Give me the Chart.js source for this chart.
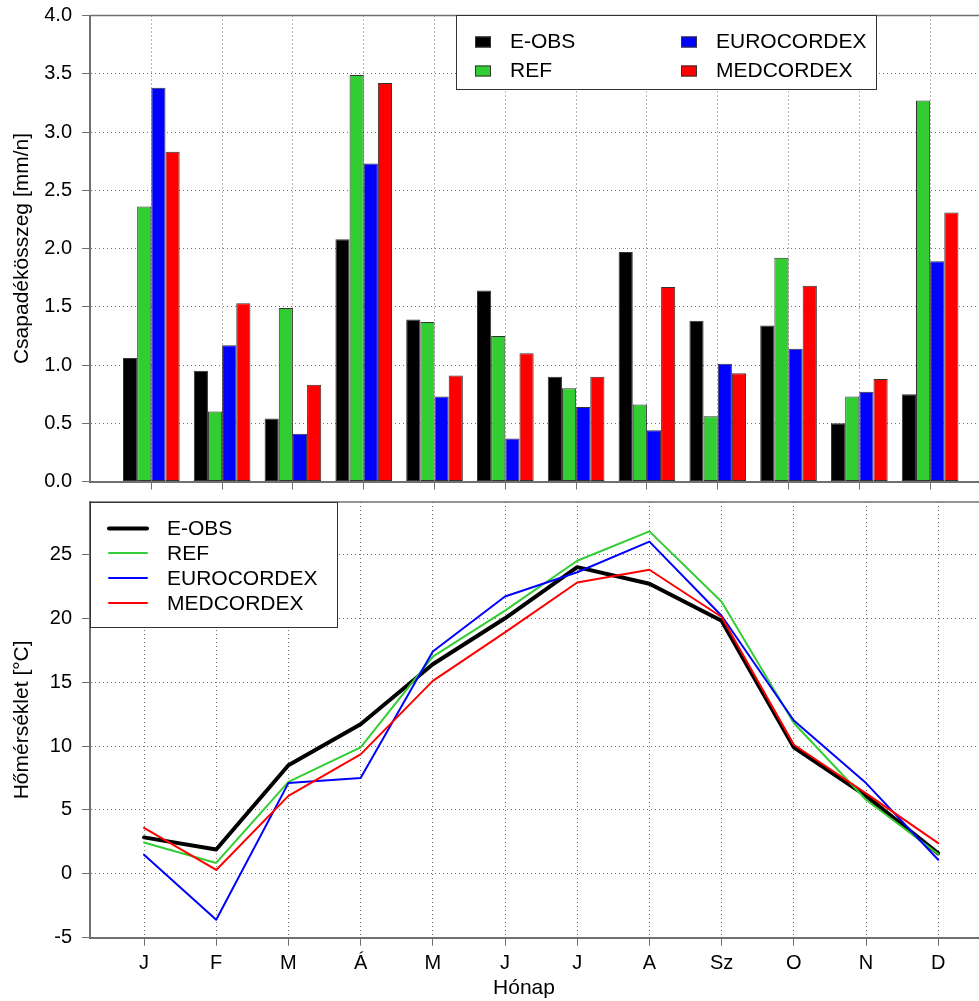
<!DOCTYPE html>
<html>
<head>
<meta charset="utf-8">
<script src="https://cdn.jsdelivr.net/npm/chart.js@4/dist/chart.umd.min.js"></script>
<style>
html, body { margin: 0; padding: 0; background: #ffffff; }
#wrap { position: relative; width: 979px; height: 1001px; overflow: hidden; background: #ffffff; }
#wrap canvas { position: absolute; left: 0; }
</style>
</head>
<body>
<div id="wrap">
  <canvas id="precip" width="979" height="495" style="top:0px;width:979px;height:495px"></canvas>
  <canvas id="temp" width="979" height="531" style="top:470px;width:979px;height:531px"></canvas>
</div>
<script>
// ---------- data ----------
const months = ['J', 'F', 'M', 'Á', 'M', 'J', 'J', 'A', 'Sz', 'O', 'N', 'D'];
const seriesNames = ['E-OBS', 'REF', 'EUROCORDEX', 'MEDCORDEX'];
const seriesColors = ['#000000', '#32CD32', '#0000FF', '#FF0000'];

const precipEOBS = [1.06, 0.95, 0.54, 2.08, 1.39, 1.64, 0.90, 1.97, 1.38, 1.34, 0.50, 0.75];
const precipREF  = [2.36, 0.60, 1.49, 3.49, 1.37, 1.25, 0.80, 0.66, 0.56, 1.92, 0.73, 3.27];
const precipEURO = [3.38, 1.17, 0.41, 2.73, 0.73, 0.37, 0.64, 0.44, 1.01, 1.14, 0.77, 1.89];
const precipMED  = [2.83, 1.53, 0.83, 3.42, 0.91, 1.10, 0.90, 1.67, 0.93, 1.68, 0.88, 2.31];

const tempEOBS = [2.85, 1.9, 8.5, 11.7, 16.4, 20.0, 24.0, 22.7, 19.8, 9.9, 6.1, 1.6];
const tempREF  = [2.45, 0.85, 7.2, 9.9, 17.0, 20.6, 24.5, 26.8, 21.3, 11.8, 5.8, 1.55];
const tempEURO = [1.5, -3.6, 7.1, 7.5, 17.4, 21.7, 23.6, 26.0, 20.2, 12.0, 7.1, 1.1];
const tempMED  = [3.6, 0.3, 6.1, 9.35, 15.1, 18.9, 22.8, 23.8, 20.1, 10.1, 6.3, 2.4];

const precipTicks = [0, 0.5, 1, 1.5, 2, 2.5, 3, 3.5, 4];
const tempTicks = [-5, 0, 5, 10, 15, 20, 25];

const precipTitle = 'Csapadékösszeg [mm/n]';
const tempTitle = 'Hőmérséklet [°C]';
const xTitle = 'Hónap';

// ---------- common ----------
Chart.defaults.font.family = "'Liberation Sans', Arial, Helvetica, sans-serif";
Chart.defaults.color = '#000000';

const GRID = '#707070';
const AXIS = '#707070';
const monthTicks = s => { s.ticks = months.map((m, i) => ({ value: i + 1 })); };

function drawTopFrame(chart) {
  const { ctx, chartArea } = chart;
  ctx.save();
  ctx.strokeStyle = AXIS;
  ctx.lineWidth = 1.5;
  ctx.beginPath();
  ctx.moveTo(chartArea.left, chartArea.top);
  ctx.lineTo(chartArea.right, chartArea.top);
  ctx.stroke();
  ctx.restore();
}

// ---------- precipitation (bars) ----------
const precipSeries = [precipEOBS, precipREF, precipEURO, precipMED];

const precipLegend = {
  id: 'precipLegend',
  afterDraw(chart) {
    drawTopFrame(chart);
    const ctx = chart.ctx;
    ctx.save();
    ctx.fillStyle = '#ffffff';
    ctx.fillRect(456, 16, 421, 74);
    ctx.strokeStyle = '#333333';
    ctx.lineWidth = 1;
    ctx.strokeRect(456.5, 15.5, 420, 74);
    ctx.font = "21px 'Liberation Sans', Arial, sans-serif";
    ctx.textBaseline = 'middle';
    ctx.textAlign = 'left';
    const cols = [[475, 510], [681, 716]];
    const rows = [42, 71];
    chart.data.datasets.forEach((ds, k) => {
      const c = cols[Math.floor(k / 2)];
      const y = rows[k % 2];
      ctx.fillStyle = ds.backgroundColor;
      ctx.fillRect(c[0], y - 5.5, 16, 11);
      ctx.strokeStyle = '#333333';
      ctx.strokeRect(c[0] + 0.5, y - 5.5 + 0.5, 15, 10);
      ctx.fillStyle = '#000000';
      ctx.fillText(ds.label, c[1], y);
    });
    ctx.restore();
  }
};

new Chart(document.getElementById('precip'), {
  type: 'bar',
  data: {
    datasets: seriesNames.map((name, k) => ({
      label: name,
      data: precipSeries[k].map((v, i) => ({ x: i + 1, y: v })),
      backgroundColor: seriesColors[k],
      borderColor: '#333333',
      borderWidth: 1,
      borderSkipped: false,
      categoryPercentage: 0.8,
      barPercentage: 1.0
    }))
  },
  options: {
    responsive: false,
    animation: false,
    devicePixelRatio: 1,
    layout: { padding: { top: 15.5, right: 0, bottom: 0, left: 0 } },
    plugins: { legend: { display: false }, tooltip: { enabled: false } },
    scales: {
      x: {
        type: 'linear',
        min: 0.134,
        max: 12.69,
        offset: false,
        afterBuildTicks: monthTicks,
        afterFit: s => { s.height = 13.5; },
        ticks: { display: false },
        grid: { color: GRID, tickColor: AXIS, tickLength: 8, offset: false, lineWidth: 1 },
        border: { display: true, color: AXIS, width: 2, dash: [1, 3] }
      },
      y: {
        min: 0,
        max: 4,
        afterBuildTicks: s => { s.ticks = precipTicks.map(v => ({ value: v })); },
        afterFit: s => { s.width = 90; },
        ticks: { font: { size: 20, lineHeight: 0.3 }, color: '#000000', padding: 10, callback: v => Number(v).toFixed(1) },
        grid: { color: GRID, tickColor: AXIS, tickLength: 8, lineWidth: 1 },
        border: { display: true, color: AXIS, width: 2, dash: [1, 3] },
        title: { display: true, text: precipTitle, font: { size: 21 }, color: '#000000', padding: { top: 10, bottom: 0 } }
      }
    }
  },
  plugins: [precipLegend]
});

// ---------- temperature (lines) ----------
const tempSeries = [tempEOBS, tempREF, tempEURO, tempMED];
const lineWidths = [4, 2, 2, 2];

const tempLegend = {
  id: 'tempLegend',
  afterDraw(chart) {
    drawTopFrame(chart);
    const ctx = chart.ctx;
    ctx.save();
    ctx.fillStyle = '#ffffff';
    ctx.fillRect(90, 32, 248, 126);
    ctx.strokeStyle = '#333333';
    ctx.lineWidth = 1;
    ctx.strokeRect(90.5, 32.5, 247, 125);
    ctx.font = "21px 'Liberation Sans', Arial, sans-serif";
    ctx.textBaseline = 'middle';
    ctx.textAlign = 'left';
    const rows = [58.5, 83, 108, 133];
    chart.data.datasets.forEach((ds, k) => {
      const y = rows[k];
      ctx.strokeStyle = ds.borderColor;
      ctx.lineWidth = ds.borderWidth;
      ctx.lineCap = 'round';
      ctx.beginPath();
      ctx.moveTo(109, y);
      ctx.lineTo(147, y);
      ctx.stroke();
      ctx.fillStyle = '#000000';
      ctx.fillText(ds.label, 167, y + 1);
    });
    // x-axis title
    ctx.textAlign = 'center';
    ctx.fillText(xTitle, 524, 518);
    ctx.restore();
  }
};

new Chart(document.getElementById('temp'), {
  type: 'line',
  data: {
    datasets: seriesNames.map((name, k) => ({
      label: name,
      data: tempSeries[k].map((v, i) => ({ x: i + 1, y: v })),
      borderColor: seriesColors[k],
      backgroundColor: seriesColors[k],
      borderWidth: lineWidths[k],
      pointRadius: 0,
      tension: 0,
      fill: false,
      borderJoinStyle: 'round',
      borderCapStyle: 'round',
      order: 4 - k
    }))
  },
  options: {
    responsive: false,
    animation: false,
    devicePixelRatio: 1,
    layout: { padding: { top: 32, right: 0, bottom: 0, left: 0 } },
    plugins: { legend: { display: false }, tooltip: { enabled: false } },
    scales: {
      x: {
        type: 'linear',
        min: 0.252,
        max: 12.565,
        offset: false,
        afterBuildTicks: monthTicks,
        afterFit: s => { s.height = 63.3; },
        ticks: { font: { size: 20 }, color: '#000000', padding: 6, maxRotation: 0, autoSkip: false,
                 callback: v => months[Math.round(v) - 1] },
        grid: { color: GRID, tickColor: AXIS, tickLength: 8, offset: false, lineWidth: 1 },
        border: { display: true, color: AXIS, width: 2, dash: [1, 3] }
      },
      y: {
        min: -5,
        max: 29.1,
        afterBuildTicks: s => { s.ticks = tempTicks.map(v => ({ value: v })); },
        afterFit: s => { s.width = 90; },
        ticks: { font: { size: 20, lineHeight: 0.3 }, color: '#000000', padding: 10 },
        grid: { color: GRID, tickColor: AXIS, tickLength: 8, lineWidth: 1 },
        border: { display: true, color: AXIS, width: 2, dash: [1, 3] },
        title: { display: true, text: tempTitle, font: { size: 21 }, color: '#000000', padding: { top: 10, bottom: 0 } }
      }
    }
  },
  plugins: [tempLegend]
});
</script>
</body>
</html>
